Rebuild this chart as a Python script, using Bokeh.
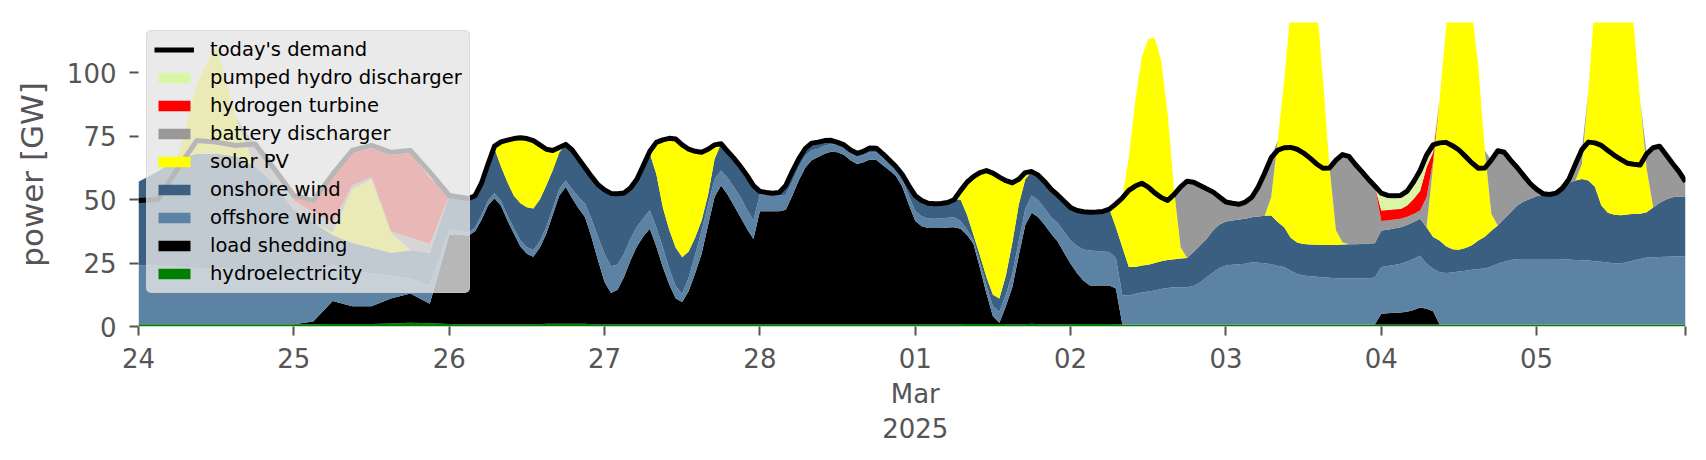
import pandas as pd
from bokeh.plotting import figure
from bokeh.models import ColumnDataSource, Range1d, FixedTicker, Legend, LegendItem
from bokeh.embed import file_html
from bokeh.resources import INLINE

# 3-hourly samples 2025-02-24 00:00 .. 2025-02-25 21:00, then hourly to 2025-03-05 23:00
times = pd.date_range("2025-02-24 00:00", periods=16, freq="3h").append(
    pd.date_range("2025-02-26 00:00", periods=192, freq="h"))

hydroelectricity = [
    0.9, 0.9, 0.9, 0.9, 0.9, 0.9, 0.9, 0.9,
    0.9, 0.9, 1.0, 1.0, 1.0, 1.2, 1.5, 1.3,
    1.0, 0.9, 0.9, 0.9, 0.9, 0.9, 0.9, 0.9, 0.9, 0.9, 0.9, 0.9,
    0.9, 0.9, 0.9, 1.1, 1.1, 1.1, 1.1, 1.1, 1.1, 1.1, 0.9, 0.9,
    0.9, 0.9, 0.9, 0.9, 0.9, 0.9, 0.9, 0.9, 0.9, 0.9, 0.9, 0.9,
    0.9, 0.9, 0.9, 0.9, 0.9, 0.9, 0.9, 0.9, 0.9, 0.9, 0.9, 0.9,
    0.9, 0.9, 0.9, 0.9, 0.9, 0.9, 0.9, 0.9, 0.9, 0.9, 0.9, 0.9,
    0.9, 0.9, 0.9, 0.9, 0.9, 0.9, 0.9, 0.9, 0.9, 0.9, 0.9, 0.9,
    0.9, 0.9, 0.9, 0.9, 0.9, 0.9, 0.9, 0.9, 1.0, 1.0, 1.0, 1.0,
    1.0, 1.0, 0.9, 0.9, 0.9, 0.9, 1.1, 0.9, 0.9, 0.9, 0.9, 0.9,
    0.9, 1.0, 1.0, 1.0, 1.0, 1.0,
    1.0, 0.9, 0.8, 0.8, 0.8, 0.8, 0.8, 0.8, 0.8, 0.8,
    0.8, 0.8, 0.8, 0.8, 0.8, 0.8, 0.8, 0.8, 0.8, 0.8,
    0.8, 0.8, 0.8, 0.8, 0.8, 0.8, 0.8, 0.8, 0.8, 0.8,
    0.8, 0.8, 0.8, 0.8, 0.8, 0.8, 0.8, 0.8, 0.8, 0.8,
    0.8, 0.8, 0.8, 0.8, 0.8, 0.8, 0.8, 0.8, 0.8, 0.8,
    0.8, 0.8, 0.8, 0.8, 0.8, 0.8, 0.8, 0.8, 0.8, 0.8,
    0.8, 0.8, 0.8, 0.8, 0.8, 0.8, 0.8, 0.8, 0.8, 0.8,
    0.8, 0.8, 0.8, 0.8, 0.8, 0.8, 0.8, 0.8, 0.8, 0.8,
    0.8, 0.8, 0.8, 0.8, 0.8, 0.8, 0.8, 0.8, 0.8, 0.8]
load_shedding = [
    0, 0, 0, 0, 0, 0, 0, 0,
    0, 1.1, 9, 7, 7, 9.8, 11.5, 7.7,
    35.0, 35.4, 35.1, 34.9, 36.6, 41.1, 46.7, 49.6, 46.6, 40.8, 35.6, 30.6,
    27.7, 26.6, 30.1, 35.4, 42.9, 50.4, 53.8, 49.4, 45.4, 41.9, 34.1, 25.1,
    16.6, 12.3, 13.6, 18.5, 25.1, 30.6, 34.6, 37.6, 30.6, 22.5, 15.6, 10.1,
    8.7, 13.1, 20.1, 27.7, 39.1, 50.1, 54.6, 51.1, 46.6, 42.1, 37.6, 33.6,
    44.5, 44.5, 44.5, 44.5, 45.1, 50.6, 56.6, 61.6, 64.6, 65.8, 67.1, 67.9,
    67.7, 66.6, 64.6, 63.1, 63.8, 64.9, 64.7, 62.6, 60.6, 58.5, 54.1, 47.1,
    40.6, 38.6, 37.9, 37.9, 37.9, 38.1, 38.2, 37.6, 35.0, 31.5, 22.0, 12.0,
    3.0, 0.5, 7.1, 14.6, 27.1, 39.1, 43.7, 42.1, 39.1, 35.6, 32.6, 28.1,
    23.8, 20.0, 17.0, 15.1, 15.1, 15.1,
    15.1, 14.1, 0, 0, 0, 0, 0, 0, 0, 0,
    0, 0, 0, 0, 0, 0, 0, 0, 0, 0,
    0, 0, 0, 0, 0, 0, 0, 0, 0, 0,
    0, 0, 0, 0, 0, 0, 0, 0, 0, 0,
    0, 0, 4.2, 4.4, 4.6, 4.7, 5.0, 5.7, 6.7, 6.2,
    5.2, 0, 0, 0, 0, 0, 0, 0, 0, 0,
    0, 0, 0, 0, 0, 0, 0, 0, 0, 0,
    0, 0, 0, 0, 0, 0, 0, 0, 0, 0,
    0, 0, 0, 0, 0, 0, 0, 0, 0, 0]
offshore_wind = [
    23.1, 23.1, 22.6, 22.1, 22.1, 21.6, 21.1, 21.1,
    21.1, 20, 14, 14, 13, 9, 6, 7,
    1.8, 1.6, 1.4, 1.2, 1.5, 1.8, 2.0, 2.0, 2.0, 2.0, 2.2, 2.4,
    2.6, 2.6, 2.6, 2.6, 2.6, 2.6, 2.6, 3.5, 4.4, 5.3, 7.2, 9.2,
    11.1, 10.5, 9.8, 9.2, 8.5, 7.8, 7.1, 7.3, 7.6, 7.8, 6.3, 4.8,
    3.3, 5.3, 7.3, 9.2, 8.1, 7.0, 5.9, 6.6, 7.3, 8.0, 7.6, 7.2,
    6.8, 6.6, 6.4, 6.2, 5.9, 5.5, 5.2, 4.6, 3.9, 3.3, 3.2, 3.1,
    3.0, 2.9, 2.8, 2.7, 2.8, 2.9, 3.0, 2.9, 2.7, 2.6, 3.0, 3.5,
    4.0, 3.9, 3.7, 3.6, 3.7, 3.8, 3.9, 3.0, 2.2, 1.5, 2.3, 3.2,
    4.0, 4.2, 4.7, 5.2, 5.7, 6.3, 6.8, 6.7, 6.6, 6.5, 7.4, 8.3,
    9.2, 10.7, 12.3, 13.8, 13.6, 13.4,
    13.2, 12.0, 11.4, 11.4, 12.1, 12.6, 13.0, 13.4, 14.0, 14.4,
    14.7, 14.7, 14.7, 15.2, 16.5, 18.6, 20.5, 22.2, 23.2, 23.5,
    23.7, 23.9, 24.5, 24.3, 24.1, 23.7, 23.0, 22.6, 21.2, 19.9,
    19.3, 19.0, 18.8, 18.6, 18.4, 18.2, 18.2, 18.1, 18.1, 18.2,
    18.2, 18.5, 18.4, 18.6, 18.8, 19.2, 19.8, 20.2, 20.4, 17.7,
    16.7, 20.6, 20.3, 20.5, 20.9, 21.2, 21.5, 21.8, 22.0, 22.8,
    23.9, 24.7, 25.4, 25.8, 25.8, 25.8, 25.8, 25.8, 25.8, 25.8,
    25.7, 25.6, 25.4, 25.3, 25.2, 24.9, 24.7, 24.4, 24.1, 24.1,
    24.5, 25.2, 25.8, 26.4, 26.5, 26.6, 26.7, 26.8, 26.8, 26.8]
onshore_wind = [
    33, 37, 42.5, 45, 45, 44.5, 41, 34.2,
    24, 19, 12, 11, 10, 9, 11, 13,
    13.8, 13.3, 13.4, 13.4, 12.5, 12.7, 14.4, 17.5, 13.5, 13.1, 12.8, 14.6,
    15.8, 16.4, 16.4, 16.4, 14.9, 14.4, 14.2, 15.5, 15.1, 14.2, 16.8, 20.6,
    25.2, 28.7, 28.0, 24.0, 20.0, 18.7, 20.9, 22.2, 20.9, 15.8, 15.2, 15.2,
    14.4, 10.2, 6.7, 3.9, 3.9, 8.0, 10.6, 10.4, 11.4, 12.0, 13.4, 13.8,
    1.0, 0.8, 0.7, 1.2, 3.6, 4.0, 3.3, 2.9, 2.8, 2.6, 2.0, 1.4,
    0.9, 1.1, 1.2, 1.5, 1.5, 1.6, 1.6, 1.6, 1.3, 1.0, 1.8, 4.0,
    6.0, 6.2, 6.0, 5.9, 5.9, 6.0, 6.9, 8.5, 5.8, 2.0, 2.7, 3.3,
    4.5, 5.3, 7.3, 12.3, 14.3, 11.7, 9.4, 9.9, 10.4, 11.0, 10.9, 12.0,
    12.9, 14.0, 14.9, 15.1, 15.4, 15.8,
    16.9, 12.1, 19.0, 11.2, 10.5, 10.6, 10.5, 10.8, 10.9, 11.0,
    11.0, 11.3, 11.5, 13.3, 14.6, 15.1, 16.5, 17.2, 17.3, 17.4,
    17.6, 17.7, 17.7, 18.2, 18.7, 19.2, 17.3, 15.7, 12.9, 12.4,
    12.4, 12.5, 12.6, 12.7, 12.9, 13.1, 13.3, 13.5, 13.5, 13.5,
    13.7, 13.5, 14.4, 14.3, 14.4, 14.4, 14.4, 14.4, 14.5, 14.4,
    12.5, 12.5, 10.5, 9.1, 8.5, 8.9, 9.7, 11.3, 12.5, 14.1,
    15.1, 16.9, 18.8, 21.0, 22.6, 23.7, 24.7, 25.4, 25.4, 25.9,
    28.6, 30.2, 31.3, 32.0, 31.5, 29.3, 22.1, 19.6, 19.1, 18.9,
    18.8, 18.4, 17.8, 17.8, 19.6, 21.2, 22.5, 23.3, 23.6, 23.6]
solar_pv = [
    0, 0, 0, 27.5, 43, 15.4, 0, 0,
    0, 0, 1, 21, 27, 8, 0, 0,
    0, 0, 0, 0, 0, 0, 0, 1.0, 9.7, 16.6, 22.5, 25.8,
    27.0, 26.7, 21.5, 14.3, 7.8, 2.0, 0, 0, 0, 0, 0, 0,
    0, 0, 0, 0, 0, 0, 0, 1.0, 12.5, 26.5, 36.1, 42.8,
    44.2, 40.3, 34.0, 26.9, 17.8, 5.5, 0, 0, 0, 0, 0, 0,
    0, 0, 0, 0, 0, 0, 0, 0, 0, 0, 0, 0,
    0, 0, 0, 0, 0, 0, 0, 0, 0, 0, 0, 0,
    0, 0, 0, 0, 0, 0, 0, 3.5, 12.8, 23.0, 32.6, 41.9,
    47.9, 47.8, 37.4, 23.6, 10.0, 2.6, 0, 0, 0, 0, 0, 0,
    0, 0, 0, 0, 0, 0,
    0, 9.2, 19.4, 43.3, 65.6, 82.0, 89.0, 88.6, 79.0, 57.5,
    27.0, 4.4, 0, 0, 0, 0, 0, 0, 0, 0,
    0, 0, 0, 0, 0, 7.3, 32.1, 57.8, 90.1, 116.9,
    127.5, 117.7, 95.8, 64.8, 30.6, 5.7, 0.9, 0, 0, 0,
    0, 0, 0, 0, 0, 0, 0, 0, 0, 0,
    27.8, 55.1, 86.2, 114.6, 129.8, 114.1, 93.0, 68.1, 34.0, 6.7,
    0, 0, 0, 0, 0, 0, 0, 0, 0, 0,
    0, 0, 0, 5.9, 35.4, 73.0, 112.4, 125.2, 131.0, 126.2,
    105.9, 74.3, 44.6, 17.0, 0, 0, 0, 0, 0, 0]
battery_discharger = [
    0, 0, 0, 0, 0, 0, 8.9, 5.8,
    3.6, 4, 4, 1.5, 1, 0.5, 5, 3.5,
    0, 0, 0, 0, 0, 0, 0, 0, 0, 0, 0, 0,
    0, 0, 0, 0, 0, 0, 0, 0, 0, 0, 0, 0,
    0, 0, 0, 0, 0, 0, 0, 0, 0, 0, 0, 0,
    0, 0, 0, 0, 0, 0, 0, 0, 0, 0, 0, 0,
    0, 0, 0, 0, 0, 0, 0, 0, 0, 0, 0, 0,
    0, 0, 0, 0, 0, 0, 0, 0, 0, 0, 0, 0,
    0, 0, 0, 0, 0, 0, 0, 0, 0, 0, 0, 0,
    0, 0, 0, 0, 0, 0, 0, 0, 0, 0, 0, 0,
    0, 0, 0, 0, 0, 0,
    0, 0, 0, 0, 0, 0, 0, 0, 0, 0,
    0, 23.8, 30.2, 27.5, 23.6, 19.7, 15.2, 10.8, 7.7, 6.8,
    6.0, 6.6, 7.9, 11.7, 16.9, 15.5, 0, 0, 0, 0,
    0, 0, 0, 0, 0, 27.7, 34.5, 34.6, 31.4, 28.5,
    25.3, 22.5, 3.7, 3.6, 3.5, 3.3, 3.2, 3.2, 3.3, 11.8,
    2.0, 0, 0, 0, 0, 0, 0, 0, 0, 21.1,
    29.4, 26.2, 20.4, 15.0, 10.2, 6.0, 2.7, 0.3, 0, 0,
    0, 1.4, 6.5, 5.7, 0, 0, 0, 0, 0, 0,
    0, 0, 0, 6.0, 23.5, 22.4, 17.6, 13.3, 9.8, 5.8]
hydrogen_turbine = [
    0, 0, 0, 0, 0, 0, 0, 0,
    1.2, 3.6, 18, 12.8, 11.3, 30.1, 33.3, 26.3,
    0, 0, 0, 0, 0, 0, 0, 0, 0, 0, 0, 0,
    0, 0, 0, 0, 0, 0, 0, 0, 0, 0, 0, 0,
    0, 0, 0, 0, 0, 0, 0, 0, 0, 0, 0, 0,
    0, 0, 0, 0, 0, 0, 0, 0, 0, 0, 0, 0,
    0, 0, 0, 0, 0, 0, 0, 0, 0, 0, 0, 0,
    0, 0, 0, 0, 0, 0, 0, 0, 0, 0, 0, 0,
    0, 0, 0, 0, 0, 0, 0, 0, 0, 0, 0, 0,
    0, 0, 0, 0, 0, 0, 0, 0, 0, 0, 0, 0,
    0, 0, 0, 0, 0, 0,
    0, 0, 0, 0, 0, 0, 0, 0, 0, 0,
    0, 0, 0, 0, 0, 0, 0, 0, 0, 0,
    0, 0, 0, 0, 0, 0, 0, 0, 0, 0,
    0, 0, 0, 0, 0, 0, 0, 0, 0, 0,
    0, 0, 4.2, 4.2, 4.1, 3.9, 4.4, 5.9, 7.8, 11.8,
    3.5, 0, 0, 0, 0, 0, 0, 0, 0, 0,
    0, 0, 0, 0, 0, 0, 0, 0, 0, 0,
    0, 0, 0, 0, 0, 0, 0, 0, 0, 0,
    0, 0, 0, 0, 0, 0, 0, 0, 0, 0]
pumped_hydro_discharger = [
    0, 0, 0, 0, 0, 0, 0, 0,
    0.8, 1, 1, 1, 1, 1, 1, 2,
    0, 0, 0, 0, 0, 0, 0, 0, 0, 0, 0, 0,
    0, 0, 0, 0, 0, 0, 0, 0, 0, 0, 0, 0,
    0, 0, 0, 0, 0, 0, 0, 0, 0, 0, 0, 0,
    0, 0, 0, 0, 0, 0, 0, 0, 0, 0, 0, 0,
    0, 0, 0, 0, 0, 0, 0, 0, 0, 0, 0, 0,
    0, 0, 0, 0, 0, 0, 0, 0, 0, 0, 0, 0,
    0, 0, 0, 0, 0, 0, 0, 0, 0, 0, 0, 0,
    0, 0, 0, 0, 0, 0, 0, 0, 0, 0, 0, 0,
    0, 0, 0, 0, 0, 0,
    0, 0, 0, 0, 0, 0, 0, 0, 0, 0,
    0, 0, 0, 0, 0, 0, 0, 0, 0, 0,
    0, 0, 0, 0, 0, 0, 0, 0, 0, 0,
    0, 0, 0, 0, 0, 0, 0, 0, 0, 0,
    0, 0, 6.8, 5.7, 5.3, 5.3, 5.7, 6.8, 7.9, 4.8,
    3.0, 0, 0, 0, 0, 0, 0, 0, 0, 0,
    0, 0, 0, 0, 0, 0, 0, 0, 0, 0,
    0, 0, 0, 0, 0, 0, 0, 0, 0, 0,
    0, 0, 0, 0, 0, 0, 0, 0, 0, 0]
todays_demand = [
    49.6, 50.0, 62.0, 73.2, 72.6, 71.3, 71.9, 62.0,
    51.6, 49.6, 60.0, 69.3, 71.3, 68.6, 69.3, 60.8,
    51.6, 51.2, 50.8, 50.4, 51.5, 56.5, 64.0, 71.0, 72.7, 73.4, 74.0, 74.3,
    74.0, 73.2, 71.5, 69.8, 69.3, 70.5, 71.7, 69.5, 66.0, 62.5, 59.0, 55.8,
    53.8, 52.4, 52.3, 52.6, 54.5, 58.0, 63.5, 69.0, 72.5, 73.5, 74.1, 73.8,
    71.5, 69.8, 69.0, 68.6, 69.8, 71.5, 72.0, 69.0, 66.2, 63.0, 59.5, 55.5,
    53.2, 52.8, 52.5, 52.8, 55.5, 61.0, 66.0, 70.0, 72.2, 72.6, 73.2, 73.3,
    72.5, 71.5, 69.5, 68.2, 69.0, 70.3, 70.2, 68.0, 65.5, 63.0, 59.8, 55.5,
    51.5, 49.6, 48.5, 48.3, 48.4, 48.8, 49.9, 53.5, 56.8, 59.0, 60.6, 61.4,
    60.4, 58.8, 57.4, 56.6, 58.0, 60.6, 61.0, 59.6, 57.0, 54.0, 51.8, 49.3,
    46.8, 45.7, 45.2, 45.0, 45.1, 45.3,
    46.2, 48.3, 50.6, 53.6, 55.3, 56.4, 54.9, 52.6, 50.8, 49.6,
    52.0, 55.0, 57.2, 56.8, 55.5, 54.2, 53.0, 51.0, 49.0, 48.5,
    48.1, 49.0, 50.9, 55.0, 60.5, 66.5, 69.4, 70.4, 70.5, 69.8,
    68.3, 66.3, 64.0, 62.3, 62.4, 65.5, 67.7, 67.0, 63.8, 61.0,
    58.0, 55.3, 52.5, 51.6, 51.5, 51.6, 53.3, 57.0, 61.4, 67.5,
    71.5, 72.3, 72.5, 71.2, 69.5, 67.0, 64.4, 62.3, 62.4, 65.5,
    69.2, 68.6, 65.4, 62.6, 59.4, 56.3, 54.0, 52.3, 52.0, 52.5,
    54.5, 58.0, 64.0, 69.7, 72.6, 72.3, 71.3, 69.3, 67.4, 65.8,
    64.3, 63.9, 63.6, 68.0, 70.4, 71.0, 67.6, 64.2, 61.0, 57.0]

series_names = ["hydroelectricity", "load shedding", "offshore wind", "onshore wind",
                "solar PV", "battery discharger", "hydrogen turbine",
                "pumped hydro discharger"]
series_keys = ["hydro", "shed", "offwind", "onwind", "solar", "battery", "h2", "phs"]
series_colors = ["#008000", "#000000", "#5d83a4", "#3a5f80", "#ffff00", "#999999",
                 "#ff0000", "#daf5a4"]

day_ticks = list(pd.date_range("2025-02-24", periods=10, freq="D")) + [times[-1]]
day_labels = ["24", "25", "26", "27", "28", "01\nMar\n2025", "02", "03", "04", "05", ""]

columns = dict(
    time=times, hydro=hydroelectricity, shed=load_shedding, offwind=offshore_wind,
    onwind=onshore_wind, solar=solar_pv, battery=battery_discharger,
    h2=hydrogen_turbine, phs=pumped_hydro_discharger, demand=todays_demand)
bad = {k: len(v) for k, v in columns.items() if len(v) != len(times)}
if bad:
    raise ValueError(f"length mismatch vs {len(times)}: {bad}")
source = ColumnDataSource(columns)

p = figure(x_axis_type="datetime", frame_width=1547, frame_height=304,
           x_range=Range1d(times[0], times[-1]), y_range=Range1d(0, 119.7),
           output_backend="svg", toolbar_location=None,
           min_border_left=138, min_border_right=13, min_border_top=22,
           min_border_bottom=126)
p.outline_line_color = None
p.xgrid.visible = False
p.ygrid.visible = False
p.background_fill_color = "white"
p.border_fill_color = "white"

areas = p.varea_stack(stackers=series_keys, x="time", color=series_colors, source=source)
demand_line = p.line("time", "demand", source=source, line_color="black",
                     line_width=5, line_join="round")

for ax in (p.xaxis[0], p.yaxis[0]):
    ax.axis_line_color = None
    ax.major_tick_line_color = "#555555"
    ax.major_tick_line_width = 2
    ax.major_tick_in = 0
    ax.major_tick_out = 9
    ax.minor_tick_line_color = None
    ax.major_label_text_color = "#555555"
    ax.major_label_text_font = "DejaVu Sans"
    ax.major_label_text_font_size = "26px"

p.yaxis.ticker = FixedTicker(ticks=[0, 25, 50, 75, 100])
p.yaxis.major_label_standoff = 13
p.yaxis.axis_label = "power [GW]"
p.yaxis.axis_label_text_font = "DejaVu Sans"
p.yaxis.axis_label_text_font_size = "31px"
p.yaxis.axis_label_text_font_style = "normal"
p.yaxis.axis_label_text_color = "#555555"
p.yaxis.axis_label_standoff = 14

tick_ms = [float(pd.Timestamp(t).value // 10**6) for t in day_ticks]
p.xaxis.ticker = FixedTicker(ticks=tick_ms)
p.xaxis.major_label_overrides = {ms: lab for ms, lab in zip(tick_ms, day_labels)}
p.xaxis.major_label_standoff = 8
p.xaxis.major_label_text_line_height = 1.17

by_name = dict(zip(series_names, areas))
legend_order = ["pumped hydro discharger", "hydrogen turbine", "battery discharger",
                "solar PV", "onshore wind", "offshore wind", "load shedding",
                "hydroelectricity"]
items = [LegendItem(label="today's demand", renderers=[demand_line])]
items += [LegendItem(label=n, renderers=[by_name[n]]) for n in legend_order]

legend = Legend(items=items, location="top_left", margin=8, padding=7, spacing=5,
                label_text_font="DejaVu Sans", label_text_font_size="19.5px",
                label_text_color="black", glyph_width=40, glyph_height=13,
                label_standoff=16, label_height=20,
                background_fill_color="#e5e5e5", background_fill_alpha=0.8,
                border_line_color="#cccccc", border_line_width=1)
if "border_radius" in Legend.properties():
    legend.border_radius = 5
p.add_layout(legend)

open("out.html", "w").write(file_html(p, INLINE))
